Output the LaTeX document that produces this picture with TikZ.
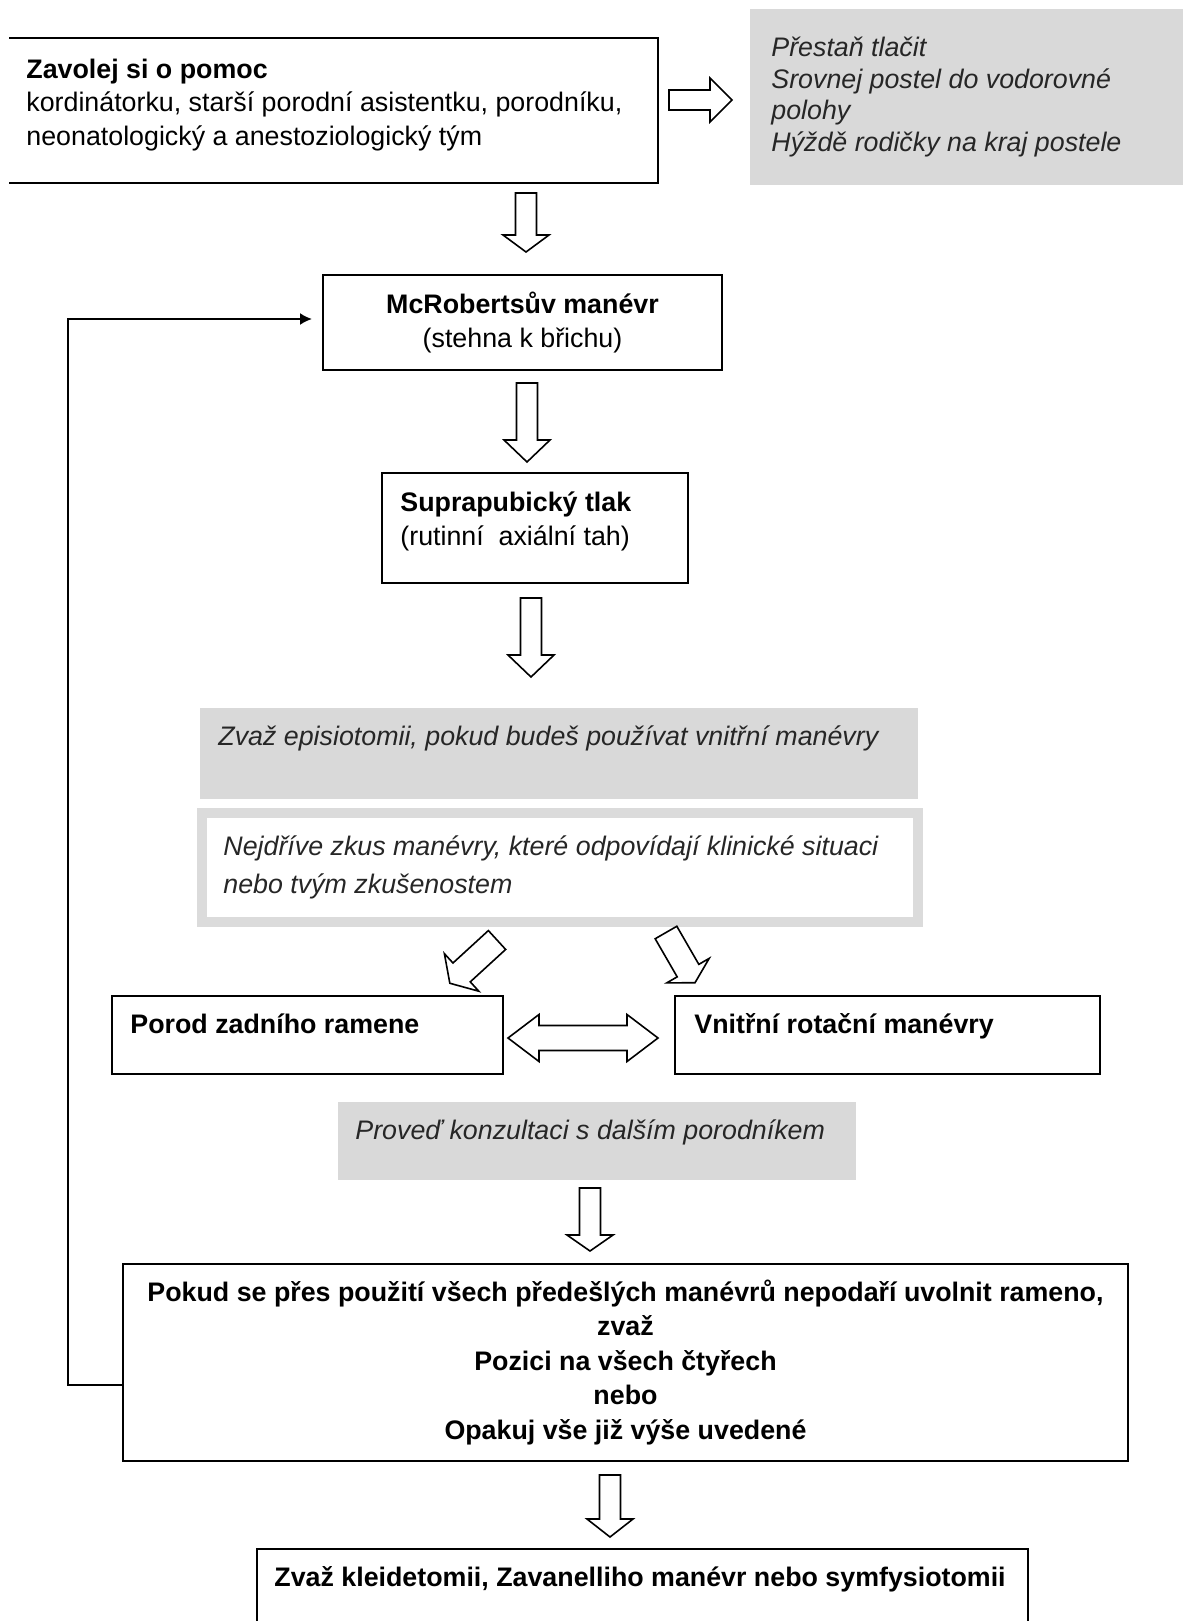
\documentclass[tikz,border=0pt]{standalone}
\usepackage{fontspec}
\setmainfont{Liberation Sans}
\usetikzlibrary{arrows.meta,calc,positioning}

\newcommand{\sz}{\fontsize{13.4}{16.75}\selectfont}
\newcommand{\firstline}{\rule{0pt}{12.5pt}}

\begin{document}
\begin{tikzpicture}[
  x=0.5pt,y=-0.5pt,
  >=Latex,
  font=\sz,
  box/.style={rectangle,draw=black,line width=1pt,fill=white,inner sep=0pt,outer sep=0pt},
  openbox/.style={rectangle,inner sep=0pt,outer sep=0pt},
  boxline/.style={draw=black,line width=1pt},
  shade/.style={rectangle,fill=black!15,inner sep=0pt,outer sep=0pt},
  frame/.style={rectangle,draw=black!14,line width=5pt,fill=white,inner sep=0pt,outer sep=0pt},
  txt/.style={inner sep=0pt,align=left,anchor=north west},
  oneline/.style={inner sep=0pt,anchor=base west},
  note/.style={text=black!85,font=\fontsize{13.4}{15.85}\selectfont\itshape},
  blockline/.style={draw=black,fill=white,line width=0.8pt,line join=miter},
  backedge/.style={-{Latex[length=6pt,width=6pt]},draw=black,line width=1pt},
  pics/fatarrow/.style args={#1/#2/#3/#4}{code={
    \draw[blockline] (0,-#3) -- (#1-#2,-#3) -- (#1-#2,-#4) -- (#1,0)
      -- (#1-#2,#4) -- (#1-#2,#3) -- (0,#3) -- cycle;
  }},
  pics/swaparrow/.style args={#1/#2/#3/#4}{code={
    \draw[blockline] (0,0) -- (#2,-#4) -- (#2,-#3) -- (#1-#2,-#3) -- (#1-#2,-#4)
      -- (#1,0) -- (#1-#2,#4) -- (#1-#2,#3) -- (#2,#3) -- (#2,#4) -- cycle;
  }}
]
\useasboundingbox[fill=white] (0,0) rectangle (1185,1621);
% call for help
\node[openbox,minimum width=324.5pt,minimum height=72.5pt] (help) at (333.5,110.5) {};
\draw[boxline] (help.north west) -- (help.north east) -- (help.south east) -- (help.south west);
\node[txt] at ($(help.north west)+(17,15)$)
  {\firstline\textbf{Zavolej si o pomoc}\\
   kordinátorku, starší porodní asistentku, porodníku,\\
   neonatologický a anestoziologický tým};
\node[shade,minimum width=216.5pt,minimum height=88pt] (stop) at (966.5,97) {};
\node[txt,note] at ($(stop.north west)+(21,22)$)
  {\firstline Přestaň tlačit\\Srovnej postel do vodorovné\\polohy\\Hýždě rodičky na kraj postele};
\pic at (669,100) {fatarrow=63/22/10/22};
% manoeuvres
\pic[rotate=-90] at (526,193) {fatarrow=59/17/10.5/23};
\node[box,minimum width=199.5pt,minimum height=47.5pt,align=center,
  font=\fontsize{13.4}{17}\selectfont] (mcr) at (522.5,322.5)
  {\textbf{McRobertsův manévr}\\(stehna k břichu)};
\pic[rotate=-90] at (527,383) {fatarrow=79/22/10.5/23};
\node[box,minimum width=153pt,minimum height=55pt] (supra) at (535,528) {};
\node[txt,font=\fontsize{13.4}{17}\selectfont] at ($(supra.north west)+(18,13)$)
  {\firstline\textbf{Suprapubický tlak}\\(rutinní~ axiální tah)};
\pic[rotate=-90] at (531,598) {fatarrow=79/22/10.5/23};
% internal manoeuvres
\node[shade,minimum width=359pt,minimum height=45.5pt] (epi) at (559,753.5) {};
\node[oneline,note] at ($(epi.north west)+(18,37)$)
  {Zvaž episiotomii, pokud budeš používat vnitřní manévry};
\node[frame,minimum width=358pt,minimum height=54.25pt] (first) at (559.5,867.25) {};
\node[txt,note,font=\fontsize{13.4}{19}\selectfont\itshape] at ($(first.north west)+(21.5,17)$)
  {\firstline Nejdříve zkus manévry, které odpovídají klinické situaci\\nebo tvým zkušenostem};
\pic[rotate=222.5] at (497,940) {fatarrow=64/16/12.8/25.5};
\pic[rotate=-60] at (666,932.5) {fatarrow=58/14/12.5/24.5};
\node[box,minimum width=195.5pt,minimum height=39pt] (post) at (307.5,1035) {};
\node[oneline] at ($(post.north west)+(18,37)$) {\textbf{Porod zadního ramene}};
\pic at (508,1038) {swaparrow=150/31/12.5/23.5};
\node[box,minimum width=212.5pt,minimum height=39pt] (rot) at (887.5,1035) {};
\node[oneline] at ($(rot.north west)+(19,37)$) {\textbf{Vnitřní rotační manévry}};
\node[shade,minimum width=259pt,minimum height=39pt] (consult) at (597,1141) {};
\node[oneline,note] at ($(consult.north west)+(17,37)$) {Proveď konzultaci s dalším porodníkem};
\pic[rotate=-90] at (590,1188) {fatarrow=63/16/10.5/23};
% last resort
\node[box,minimum width=502.5pt,minimum height=98.5pt,align=center,
  font=\fontsize{13.4}{17.25}\selectfont\bfseries] (final) at (625.5,1362.5)
  {Pokud se přes použití všech předešlých manévrů nepodaří uvolnit rameno,\\
   zvaž\\Pozici na všech čtyřech\\nebo\\Opakuj vše již výše uvedené};
\draw[backedge] ($(final.west)+(0,22.5)$) -| ($(mcr.west)+(-255,-3.5)$)
  -- ($(mcr.west)+(-11,-3.5)$);
\pic[rotate=-90] at (610,1475) {fatarrow=62/18/10.5/23};
\node[openbox,minimum width=385.5pt,minimum height=36pt] (last) at (642.5,1585) {};
\draw[boxline] (last.south west) -- (last.north west) -- (last.north east) -- (last.south east);
\node[oneline] at ($(last.north west)+(17,37)$)
  {\textbf{Zvaž kleidetomii, Zavanelliho manévr nebo symfysiotomii}};
\end{tikzpicture}
\end{document}
